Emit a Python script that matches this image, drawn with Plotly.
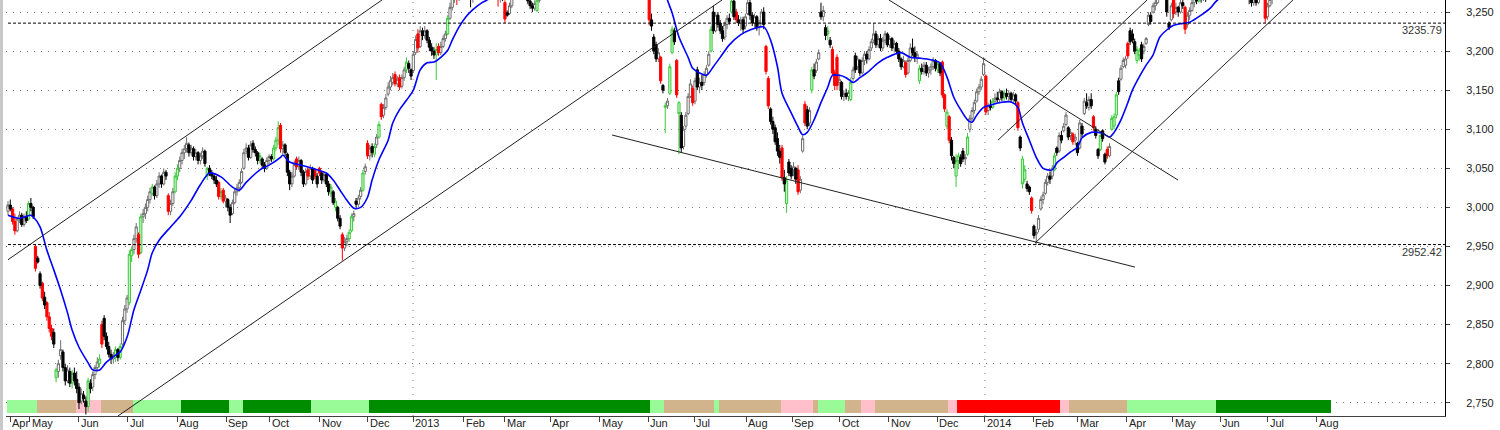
import plotly.graph_objects as go

# ---------------- data (trading-day index, price) ----------------
opens = [
 2995,3003,2998,2982,2970,2985,2990,2978,2988,2985,
 3005,3000,2950,2935,2915,2903,2885,2878,2860,2845,
 2840,2782,2790,2810,2815,2795,2778,2790,2775,2788,
 2780,2770,2752,2760,2752,2745,2775,2770,2786,2795,
 2800,2850,2858,2835,2822,2812,2806,2808,2818,2808,
 2825,2855,2870,2878,2938,2946,2960,2965,2942,2988,
 2992,3000,3010,3018,3026,3015,3030,3040,3030,3045,
 3015,2995,3005,3020,3040,3050,3060,3070,3075,3080,
 3070,3075,3065,3070,3060,3066,3072,3040,3050,3044,
 3040,3035,3032,3014,3022,3008,3010,3000,2992,3006,
 3020,3025,3032,3050,3072,3076,3064,3082,3074,3070,
 3060,3062,3054,3050,3060,3065,3062,3076,3086,3105,
 3075,3080,3068,3045,3030,3040,3062,3052,3060,3045,
 3030,3048,3040,3050,3048,3040,3050,3044,3035,3042,
 3030,3018,3020,3000,3000,2986,2965,2948,2956,2960,
 2970,2988,3008,3004,3014,3022,3046,3082,3066,3078,
 3068,3080,3090,3132,3118,3128,3145,3154,3160,3170,
 3158,3166,3155,3166,3176,3184,3176,3175,3198,3222,
 3206,3226,3220,3226,3214,3205,3200,3195,3206,3198,
 3206,3216,3222,3242,3256,3268,3280,3266,3282,3290,
 3284,3292,3280,3270,3278,3286,3292,3298,3302,3290,
 3296,3306,3300,3290,3285,3266,3276,3262,3249,3248,
 3258,3270,3284,3290,3284,3280,3274,3270,3264,3258,
 3255,3252,3265,3276,3290,3300,3310,3305,3315,3320,
 3312,3325,3330,3322,3335,3340,3345,3338,3350,3355,
 3348,3360,3370,3365,3375,3380,3372,3385,3390,3395,
 3400,3392,3405,3410,3420,3415,3430,3440,3435,3445,
 3430,3420,3400,3410,3390,3370,3360,3340,3320,3300,
 3280,3240,3218,3208,3190,3192,3156,3128,3130,3146,
 3198,3226,3188,3134,3118,3078,3104,3120,3142,3152,
 3136,3176,3154,3160,3160,3170,3182,3200,3250,3226,
 3246,3236,3226,3218,3234,3242,3250,3264,3250,3240,
 3236,3240,3232,3248,3262,3246,3236,3244,3230,3236,
 3250,3206,3165,3126,3110,3102,3088,3072,3076,3038,
 3005,3058,3050,3048,3050,3048,3022,3072,3132,3125,
 3108,3150,3176,3175,3190,3250,3244,3230,3222,3214,
 3202,3172,3192,3160,3160,3142,3146,3142,3138,3165,
 3194,3180,3188,3172,3188,3196,3190,3204,3214,3222,
 3208,3216,3204,3214,3222,3208,3216,3204,3210,3200,
 3190,3180,3185,3172,3188,3204,3198,3192,3162,3178,
 3174,3182,3172,3176,3180,3188,3176,3184,3186,3144,
 3104,3116,3086,3064,3040,3060,3064,3072,3062,3068,
 3100,3114,3124,3136,3148,3154,3170,3168,3124,3130,
 3128,3136,3140,3138,3148,3140,3146,3142,3146,3138,
 3144,3134,3090,3062,3036,3030,3026,3012,2976,2966,
 2972,2998,3010,3018,3032,3040,3040,3048,3076,3072,
 3092,3098,3106,3102,3092,3094,3086,3082,3076,3104,
 3120,3134,3128,3138,3116,3100,3074,3074,3098,3068,
 3074,3066,3100,3104,3118,3162,3164,3180,3182,3210,
 3226,3222,3212,3188,3200,3208,3200,3210,3234,3246,
 3250,3258,3262,3274,3270,3280,3270,3236,3240,3268,
 3250,3256,3250,3262,3256,3234,3246,3252,3262,3268,
 3264,3276,3270,3280,3272,3285,3290,3282,3294,3300,
 3290,3296,3302,3292,3284,3292,3280,3276,3286,3278,
 3272,3280,3274,3266,3262,3268,3262,3272,3280,3268,
 3244,3258,3266,3272,3282,3286,3270,3288,3296,3304,
 3310,3304,3314,3320,3312,3322,3328,3320,3330,3336,
 3328,3334,3322,3310,3316,3306,3312]

highs = [
 3008,3010,3000,2992,2988,2995,2993,2992,2995,3008,
 3012,3002,2952,2938,2918,2905,2892,2880,2866,2850,
 2845,2795,2805,2830,2818,2800,2798,2795,2792,2795,
 2790,2775,2768,2765,2758,2782,2780,2790,2798,2808,
 2812,2855,2862,2840,2828,2818,2815,2822,2820,2826,
 2860,2875,2888,2945,2950,2965,2980,2968,2992,2998,
 3005,3015,3025,3030,3028,3035,3045,3042,3050,3048,
 3018,3010,3025,3045,3055,3065,3075,3080,3090,3083,
 3080,3078,3075,3072,3070,3077,3074,3052,3054,3048,
 3044,3040,3034,3025,3025,3016,3012,3004,3010,3024,
 3030,3036,3050,3075,3082,3080,3085,3086,3078,3072,
 3070,3064,3058,3064,3068,3068,3080,3090,3110,3108,
 3085,3082,3070,3048,3045,3060,3065,3065,3062,3048,
 3050,3052,3055,3052,3050,3044,3052,3046,3046,3044,
 3034,3030,3022,3012,3002,2990,2968,2962,2965,2972,
 2992,2996,3012,3016,3026,3048,3056,3086,3080,3082,
 3082,3094,3110,3134,3132,3145,3160,3168,3172,3174,
 3168,3170,3170,3180,3192,3188,3178,3200,3220,3228,
 3232,3230,3232,3228,3218,3210,3205,3210,3210,3212,
 3220,3226,3246,3262,3275,3285,3284,3288,3296,3294,
 3298,3294,3284,3282,3292,3296,3302,3308,3304,3300,
 3310,3308,3302,3294,3288,3280,3278,3265,3252,3262,
 3275,3288,3294,3292,3286,3282,3278,3272,3266,3262,
 3265,3268,3280,3294,3305,3316,3314,3320,3326,3322,
 3330,3336,3332,3340,3346,3350,3348,3356,3360,3358,
 3366,3376,3372,3380,3386,3382,3390,3396,3400,3406,
 3402,3410,3416,3426,3422,3436,3446,3442,3452,3448,
 3434,3422,3416,3412,3392,3374,3362,3344,3326,3306,
 3284,3248,3222,3212,3204,3194,3158,3134,3140,3184,
 3232,3230,3190,3136,3122,3104,3122,3146,3164,3156,
 3166,3180,3166,3170,3174,3182,3200,3232,3258,3250,
 3250,3240,3232,3238,3246,3248,3266,3270,3254,3246,
 3244,3244,3248,3268,3266,3250,3248,3246,3240,3254,
 3256,3208,3168,3128,3116,3106,3096,3080,3080,3048,
 3040,3062,3054,3058,3052,3054,3040,3092,3136,3130,
 3128,3180,3184,3190,3202,3262,3258,3234,3232,3218,
 3206,3176,3196,3170,3162,3150,3152,3150,3166,3180,
 3198,3194,3190,3192,3200,3200,3206,3216,3236,3226,
 3220,3222,3218,3226,3224,3220,3218,3214,3212,3204,
 3192,3194,3188,3192,3210,3216,3206,3200,3182,3184,
 3186,3186,3180,3184,3192,3190,3186,3186,3188,3146,
 3126,3118,3090,3066,3068,3070,3068,3076,3068,3095,
 3118,3128,3138,3152,3158,3168,3192,3170,3134,3138,
 3140,3146,3148,3152,3150,3150,3152,3150,3148,3148,
 3146,3136,3092,3066,3054,3034,3028,3014,2978,2972,
 2990,3014,3020,3036,3044,3046,3054,3070,3078,3096,
 3098,3108,3122,3104,3100,3096,3094,3084,3112,3108,
 3140,3146,3142,3146,3118,3104,3076,3096,3100,3070,
 3078,3082,3118,3120,3148,3166,3182,3192,3194,3212,
 3230,3228,3216,3206,3204,3212,3210,3218,3250,3250,
 3262,3266,3280,3282,3284,3286,3274,3238,3262,3272,
 3262,3258,3266,3270,3258,3250,3256,3266,3272,3276,
 3280,3282,3284,3286,3290,3296,3292,3298,3304,3302,
 3300,3306,3304,3298,3296,3294,3286,3290,3290,3282,
 3284,3282,3276,3270,3272,3270,3276,3284,3282,3270,
 3262,3270,3276,3286,3290,3290,3290,3300,3308,3314,
 3312,3318,3324,3322,3326,3332,3330,3334,3340,3338,
 3340,3336,3326,3320,3318,3316,3316]

lows = [
 2990,2995,2978,2965,2968,2980,2975,2975,2980,2983,
 2995,2985,2918,2928,2896,2880,2870,2855,2840,2830,
 2820,2776,2782,2805,2790,2772,2775,2770,2768,2772,
 2762,2742,2748,2750,2735,2738,2762,2765,2780,2790,
 2795,2820,2830,2818,2808,2800,2800,2802,2803,2805,
 2822,2850,2865,2875,2930,2940,2955,2935,2940,2980,
 2985,2995,3005,3015,3010,3012,3025,3025,3028,3035,
 2990,2990,3002,3018,3035,3045,3055,3062,3070,3065,
 3066,3060,3060,3055,3055,3062,3052,3035,3040,3036,
 3030,3026,3010,3010,3005,3000,2995,2980,2990,3004,
 3015,3020,3030,3048,3068,3060,3062,3070,3065,3055,
 3056,3050,3045,3048,3055,3058,3060,3072,3080,3070,
 3068,3066,3040,3022,3026,3038,3048,3048,3040,3026,
 3028,3035,3036,3030,3036,3025,3040,3030,3032,3026,
 3015,3013,3003,2995,2982,2972,2932,2944,2950,2956,
 2968,2982,3000,3000,3010,3020,3042,3062,3060,3064,
 3064,3076,3088,3112,3114,3125,3142,3150,3156,3155,
 3154,3150,3152,3162,3172,3172,3163,3172,3195,3198,
 3204,3214,3216,3210,3200,3194,3190,3163,3194,3195,
 3204,3212,3220,3240,3252,3262,3259,3264,3276,3278,
 3280,3276,3256,3262,3274,3282,3288,3292,3286,3286,
 3292,3294,3286,3280,3257,3262,3264,3236,3244,3246,
 3255,3266,3280,3280,3276,3270,3266,3260,3254,3250,
 3252,3250,3262,3272,3286,3296,3300,3302,3310,3306,
 3308,3320,3316,3318,3330,3336,3332,3334,3346,3342,
 3344,3356,3360,3362,3370,3366,3368,3380,3386,3390,
 3386,3388,3400,3406,3410,3412,3426,3430,3432,3426,
 3414,3394,3396,3384,3364,3354,3334,3314,3294,3280,
 3233,3226,3196,3186,3186,3158,3146,3095,3126,3144,
 3196,3208,3140,3068,3070,3074,3100,3118,3140,3130,
 3132,3150,3146,3150,3156,3166,3180,3198,3222,3224,
 3230,3222,3212,3214,3228,3234,3248,3240,3236,3232,
 3226,3222,3228,3246,3240,3232,3230,3226,3220,3234,
 3228,3170,3126,3106,3094,3080,3066,3056,3034,3020,
 2993,3040,3036,3040,3030,3016,3018,3070,3104,3100,
 3104,3146,3164,3172,3188,3240,3238,3214,3214,3204,
 3168,3150,3150,3150,3138,3136,3138,3136,3136,3162,
 3172,3176,3168,3170,3182,3184,3188,3200,3210,3204,
 3204,3200,3200,3210,3205,3204,3200,3198,3196,3186,
 3176,3178,3166,3170,3186,3194,3186,3184,3158,3170,
 3170,3168,3166,3170,3176,3174,3172,3168,3140,3122,
 3100,3082,3060,3050,3026,3050,3052,3058,3054,3066,
 3096,3110,3120,3134,3144,3150,3168,3118,3118,3124,
 3126,3132,3134,3134,3136,3136,3138,3136,3134,3134,
 3132,3098,3072,3024,3032,3020,3016,2992,2960,2952,
 2968,2996,3004,3016,3028,3030,3036,3046,3066,3070,
 3082,3096,3104,3086,3086,3080,3080,3066,3074,3090,
 3118,3126,3124,3126,3098,3088,3062,3072,3084,3055,
 3062,3064,3098,3100,3114,3144,3162,3178,3178,3190,
 3208,3210,3196,3184,3188,3186,3196,3208,3232,3234,
 3248,3252,3260,3266,3266,3268,3244,3227,3238,3242,
 3246,3244,3248,3254,3222,3230,3240,3250,3256,3260,
 3262,3262,3264,3263,3268,3280,3278,3278,3290,3286,
 3284,3290,3288,3280,3278,3276,3270,3272,3272,3266,
 3268,3268,3260,3257,3258,3258,3260,3268,3266,3236,
 3240,3256,3260,3268,3276,3272,3265,3284,3292,3298,
 3300,3300,3310,3308,3308,3318,3316,3316,3326,3324,
 3324,3318,3306,3304,3300,3298,3296]

closes = [
 3003,2998,2982,2970,2985,2990,2978,2988,2983,3005,
 3000,2988,2922,2930,2900,2884,2875,2860,2845,2835,
 2825,2792,2800,2818,2795,2778,2792,2775,2788,2778,
 2768,2750,2762,2755,2745,2778,2768,2786,2795,2802,
 2806,2825,2835,2822,2812,2806,2810,2818,2808,2822,
 2855,2870,2884,2940,2946,2960,2975,2940,2988,2992,
 3000,3010,3020,3026,3015,3030,3040,3030,3045,3040,
 2995,3005,3020,3040,3050,3060,3070,3075,3082,3070,
 3076,3065,3070,3060,3066,3072,3056,3050,3044,3040,
 3035,3030,3014,3020,3008,3012,3000,2990,3006,3020,
 3025,3032,3046,3070,3076,3064,3080,3074,3070,3060,
 3066,3054,3050,3060,3065,3062,3076,3086,3102,3075,
 3080,3070,3045,3030,3040,3055,3052,3060,3045,3030,
 3046,3040,3050,3035,3040,3030,3044,3035,3042,3030,
 3020,3026,3006,3008,2986,2976,2948,2956,2960,2968,
 2988,2992,3004,3012,3022,3044,3052,3066,3076,3070,
 3078,3090,3106,3116,3128,3140,3154,3162,3166,3158,
 3164,3154,3166,3176,3186,3178,3168,3196,3215,3204,
 3226,3220,3226,3214,3205,3200,3195,3202,3198,3206,
 3216,3222,3242,3256,3268,3278,3266,3282,3290,3284,
 3292,3280,3270,3278,3286,3292,3298,3302,3290,3296,
 3306,3300,3290,3285,3266,3276,3270,3241,3246,3258,
 3270,3284,3290,3284,3280,3274,3270,3264,3258,3255,
 3261,3265,3276,3290,3300,3310,3305,3315,3320,3312,
 3325,3330,3322,3335,3340,3345,3338,3350,3355,3348,
 3360,3370,3365,3375,3380,3372,3385,3390,3395,3400,
 3392,3405,3410,3420,3415,3430,3440,3435,3445,3430,
 3420,3400,3410,3390,3370,3360,3340,3320,3300,3285,
 3240,3232,3200,3190,3198,3162,3150,3130,3136,3180,
 3228,3212,3144,3120,3076,3100,3118,3142,3158,3134,
 3162,3154,3160,3156,3170,3178,3196,3228,3226,3246,
 3234,3226,3216,3234,3242,3238,3264,3244,3240,3236,
 3240,3228,3244,3262,3246,3236,3244,3230,3236,3250,
 3234,3174,3130,3110,3100,3084,3072,3064,3038,3030,
 3034,3044,3040,3052,3036,3020,3036,3088,3108,3104,
 3124,3176,3168,3186,3198,3244,3252,3220,3226,3208,
 3172,3156,3156,3164,3142,3146,3142,3147,3160,3176,
 3176,3190,3172,3188,3196,3190,3202,3212,3222,3208,
 3216,3204,3214,3222,3208,3216,3204,3210,3200,3190,
 3180,3188,3170,3188,3204,3198,3192,3196,3178,3174,
 3182,3172,3176,3180,3188,3178,3184,3172,3144,3126,
 3122,3086,3066,3056,3060,3066,3056,3062,3064,3090,
 3114,3124,3134,3148,3154,3164,3184,3122,3130,3128,
 3136,3140,3138,3148,3140,3146,3142,3146,3138,3144,
 3136,3102,3076,3030,3048,3024,3020,2996,2964,2968,
 2986,3010,3016,3032,3040,3036,3050,3066,3070,3092,
 3086,3104,3118,3090,3096,3084,3090,3070,3108,3094,
 3136,3130,3138,3130,3102,3092,3066,3092,3088,3058,
 3066,3078,3114,3116,3144,3148,3178,3188,3190,3194,
 3212,3214,3200,3202,3194,3190,3206,3216,3246,3238,
 3258,3262,3274,3270,3280,3274,3250,3230,3258,3248,
 3256,3250,3262,3258,3228,3246,3252,3262,3268,3264,
 3276,3270,3280,3272,3285,3290,3282,3294,3300,3290,
 3296,3302,3292,3284,3292,3280,3276,3286,3278,3272,
 3280,3274,3266,3262,3268,3262,3272,3280,3270,3242,
 3258,3266,3272,3282,3286,3278,3288,3296,3304,3310,
 3304,3314,3320,3312,3322,3328,3320,3330,3336,3328,
 3334,3322,3310,3316,3306,3312,3300]

# candle colour class per day: k=black, w=hollow, r=red, g=green
candle_kind = (
 "wkrrwwkwkg" "kkrkkrkrrr" "kgwwkkwkgk" "kkwkkgkwww" "grkkkkwgkg"
 "wwwggwwrgw" "wwwgkwwkwk" "rwwggwwwwk" "wkwkwwkgkk" "kkrgrwkkww"
 "wwwwwkwkkk" "gkkwwkgggr" "wkkkwwrwkk" "wrwkrkrkwk" "kgkgkkrwwg"
 "gwkwwgwrwk" "gwgrwwwwwr" "wrwwgkkwwr" "wkwkkkkgrw" "wwgwwwrwwk"
 "wkkwwwwwkw" "wkkkrwkrkw" "wwwkkkkkkk" "wgwwwwkwwk" "wwkwwwkwwk"
 "wwkwwkwwww" "kwwwkwwkwk" "kkwkkkkkkk" "rkkkwrkgwg" "gkrgkwwwwr"
 "wkwkwwwgkw" "kkkwwkgkrk" "wkwwkkwkww" "krrkkkkkrk" "gkkwkrwwrk"
 "wgkwwkwkgk" "rrrwkwkwgw" "kwkwwkwwwk" "wkwwkwkwkk" "kwrwwkkwgk"
 "wkwwwkgkrr" "grkkggkkwg" "wwwwwwwrwk" "gwkwkgkwkw" "krkggkkrkw"
 "wwwwwkwgkw" "kwwkwrwkwk" "wkwkrkkgkk" "rwgggkwwwr" "kkkggkwwwk"
 "wwwkwkkkwr" "wkwkrwwwwk" "gkwkwwkwwk" "wwkkwkkwkk" "wkkkwkwwkr"
 "wwwwwkgwww" "kwwkwwkwwk" "wkkwkwk")

# moving average (day index, value)
ma_day = [0,5,10,11,14,17,20,23,26,28,31,35,37,40,43,47,49,52,55,58,61,63,66,71,75,
          80,84,88,93,98,101,104,110,114,119,120,123,128,133,139,142,145,148,151,154,
          157,159,162,166,168,171,174,177,180,183,186,189,192,194,197,200,203,207,209,
          215,230,245,260,272,280,285,288,290,293,297,299,302,305,308,311,315,320,324,
          330,333,336,338,342,345,347,349,352,355,358,360,363,366,369,372,375,380,384,
          390,394,398,403,407,410,413,416,419,421,423,426,429,433,438,441,443,446,449,
          452,456,458,461,464,467,469,473,476,478,481,483,486,489,491,494,497,500,503,
          506,509,512,516,521,525,528,540,555,576]
ma_value = [2990,2986,2990,2988,2975,2945,2920,2894,2865,2843,2821,2801,2792,2792,2802,
            2811,2815,2834,2869,2894,2920,2942,2958,2975,2988,3009,3029,3044,3039,3026,
            3022,3032,3048,3054,3064,3067,3058,3054,3050,3044,3035,3022,3009,2999,3000,
            3013,3035,3061,3086,3108,3125,3137,3150,3176,3185,3186,3192,3201,3214,3231,
            3244,3253,3262,3265,3275,3285,3300,3340,3370,3340,3295,3265,3249,3218,3192,
            3178,3172,3169,3180,3192,3208,3221,3227,3231,3214,3180,3146,3121,3103,3093,
            3096,3112,3134,3154,3169,3169,3166,3160,3166,3172,3185,3192,3198,3192,3191,
            3189,3185,3167,3141,3125,3112,3109,3118,3128,3131,3134,3135,3128,3108,3086,
            3064,3050,3048,3057,3064,3071,3077,3089,3096,3096,3095,3090,3096,3112,3134,
            3150,3167,3182,3195,3218,3227,3233,3235,3237,3246,3255,3265,3285,3300,3310]

# month ticks (day index of month boundary) and their labels
month_tick_day = [0.9, 9.6, 31.0, 52.4, 73.8, 95.2, 114.4, 136.2, 157.2, 176.9, 199.1, 217.0,
                  236.7, 258.5, 279.5, 299.6, 322.3, 342.4, 363.3, 384.7, 405.7, 426.6,
                  447.6, 467.2, 488.6, 508.7, 529.3, 550.2, 571.6]
month_labels = ["Apr", "May", "Jun", "Jul", "Aug", "Sep", "Oct", "Nov", "Dec", "2013", "Feb",
                "Mar", "Apr", "May", "Jun", "Jul", "Aug", "Sep", "Oct", "Nov", "Dec", "2014",
                "Feb", "Mar", "Apr", "May", "Jun", "Jul", "Aug"]
year_start_day = [176.9, 426.6]
y_ticks = [2750, 2800, 2850, 2900, 2950, 3000, 3050, 3100, 3150, 3200, 3250]

# regime strip (first day, last day, state)
regime_start = [0, 13, 30, 41, 55, 76, 97, 103, 133, 158, 281, 287, 309, 311, 338, 352, 354,
                366, 373, 379, 411, 415, 460, 464, 489, 528]
regime_end = [12, 29, 40, 54, 75, 96, 102, 132, 157, 280, 286, 308, 310, 337, 351, 353, 365,
              372, 378, 410, 414, 459, 463, 488, 527, 577]
regime_state = ["lightgreen", "tan", "pink", "tan", "lightgreen", "green", "lightgreen", "green",
                "lightgreen", "green", "lightgreen", "tan", "lightgreen", "tan", "pink", "tan",
                "lightgreen", "tan", "pink", "tan", "pink", "red", "pink", "tan", "lightgreen",
                "green"]

# horizontal reference levels
level_values = [3235.79, 2952.42]

# trend lines (day index / price end points)
trend_x0 = [0, 48, 263.8, 384.7, 432.3, 448.5]
trend_y0 = [2933, 2733, 3092.6, 3265.4, 3086, 2954.4]
trend_x1 = [163.3, 311.8, 492.1, 510.9, 497.4, 561.1]
trend_y1 = [3265.4, 3265.4, 2923.6, 3035, 3265.4, 3265.4]

# ---------------- figure ----------------
X_MIN, X_MAX = -0.87, 627.5
Y_MIN, Y_MAX = 2733, 3265.4
FONT = "Arial, Liberation Sans, sans-serif"

days = list(range(len(closes)))
fig = go.Figure()

state_colors = {"lightgreen": "#98FB98", "tan": "#D2B48C", "pink": "#FFC0CB",
                "green": "#008C00", "red": "#FF0000"}
fig.add_trace(go.Bar(
    x=[(s + e) / 2 for s, e in zip(regime_start, regime_end)],
    y=[17.0] * len(regime_start), base=2736.5,
    width=[e - s + 1 for s, e in zip(regime_start, regime_end)],
    marker=dict(color=[state_colors[s] for s in regime_state], line=dict(width=0)),
    hoverinfo="skip", showlegend=False))

styles = {"w": ("#6E6E6E", "#FFFFFF"), "g": ("#3CC83C", "#C8F5C8"),
          "r": ("#FF0000", "#FF0000"), "k": ("#000000", "#000000")}
for kind, (lc, fc) in styles.items():
    sel = [k == kind for k in candle_kind]
    fig.add_trace(go.Candlestick(
        x=days,
        open=[v if s else None for v, s in zip(opens, sel)],
        high=[v if s else None for v, s in zip(highs, sel)],
        low=[v if s else None for v, s in zip(lows, sel)],
        close=[v if s else None for v, s in zip(closes, sel)],
        increasing=dict(line=dict(color=lc, width=1), fillcolor=fc),
        decreasing=dict(line=dict(color=lc, width=1), fillcolor=fc),
        whiskerwidth=0, hoverinfo="skip", showlegend=False))

fig.add_trace(go.Scatter(x=ma_day, y=ma_value, mode="lines",
                         line=dict(color="#0000FF", width=1.6, shape="spline", smoothing=0.8),
                         hoverinfo="skip", showlegend=False))

shapes = []
for x0, y0, x1, y1 in zip(trend_x0, trend_y0, trend_x1, trend_y1):
    shapes.append(dict(type="line", xref="x", yref="y", x0=x0, y0=y0, x1=x1, y1=y1,
                       line=dict(color="#202020", width=1)))
for v in level_values:
    shapes.append(dict(type="line", xref="x", yref="y", x0=0, x1=X_MAX, y0=v, y1=v,
                       line=dict(color="#000000", width=1, dash="3px,2px")))
for d in year_start_day:
    shapes.append(dict(type="line", xref="x", yref="y", x0=d, x1=d, y0=Y_MIN, y1=Y_MAX,
                       line=dict(color="#808080", width=1, dash="1px,6px"), layer="below"))
# thin grey frame edge at far left
shapes.append(dict(type="rect", xref="paper", yref="paper", x0=-6 / 1439, x1=-3 / 1439,
                   y0=-14 / 416, y1=1, line=dict(width=0), fillcolor="#C8C8C8"))

annotations = []
for d, lab in zip(month_tick_day, month_labels):
    annotations.append(dict(x=d, y=0, xref="x", yref="paper", text=lab, showarrow=False,
                            xanchor="left", yanchor="top", xshift=0, yshift=1,
                            font=dict(family=FONT, size=11, color="#222222")))
for v in level_values:
    annotations.append(dict(x=1, y=v, xref="paper", yref="y", text=f"{v:.2f}",
                            showarrow=False, xanchor="right", yanchor="top", xshift=-1,
                            yshift=1, font=dict(family=FONT, size=11, color="#333333")))

fig.update_layout(
    width=1500, height=430,
    margin=dict(l=6, r=55, t=0, b=14),
    paper_bgcolor="white", plot_bgcolor="white",
    showlegend=False, boxgap=0.05, boxgroupgap=0, boxmode="overlay", bargap=0,
    shapes=shapes, annotations=annotations,
    xaxis=dict(range=[X_MIN, X_MAX], rangeslider=dict(visible=False), showgrid=False,
               zeroline=False, showline=True, linecolor="#404040", linewidth=1,
               tickmode="array", tickvals=month_tick_day, ticks="outside", ticklen=5,
               tickcolor="#404040", showticklabels=False, fixedrange=True),
    yaxis=dict(side="right", range=[Y_MIN, Y_MAX], tickmode="array", tickvals=y_ticks,
               ticktext=[f"{t:,}" for t in y_ticks], showgrid=True, gridcolor="#808080",
               griddash="1px,6px", gridwidth=1, zeroline=False, showline=True,
               linecolor="#000000", linewidth=1, ticks="outside", ticklen=4,
               tickcolor="#404040", ticklabelstandoff=14, fixedrange=True,
               tickfont=dict(family=FONT, size=11, color="#222222")),
)

fig.write_html("out.html", config={"displayModeBar": False, "staticPlot": True},
               post_script="document.body.style.margin='0px';document.body.style.overflow='hidden';")
